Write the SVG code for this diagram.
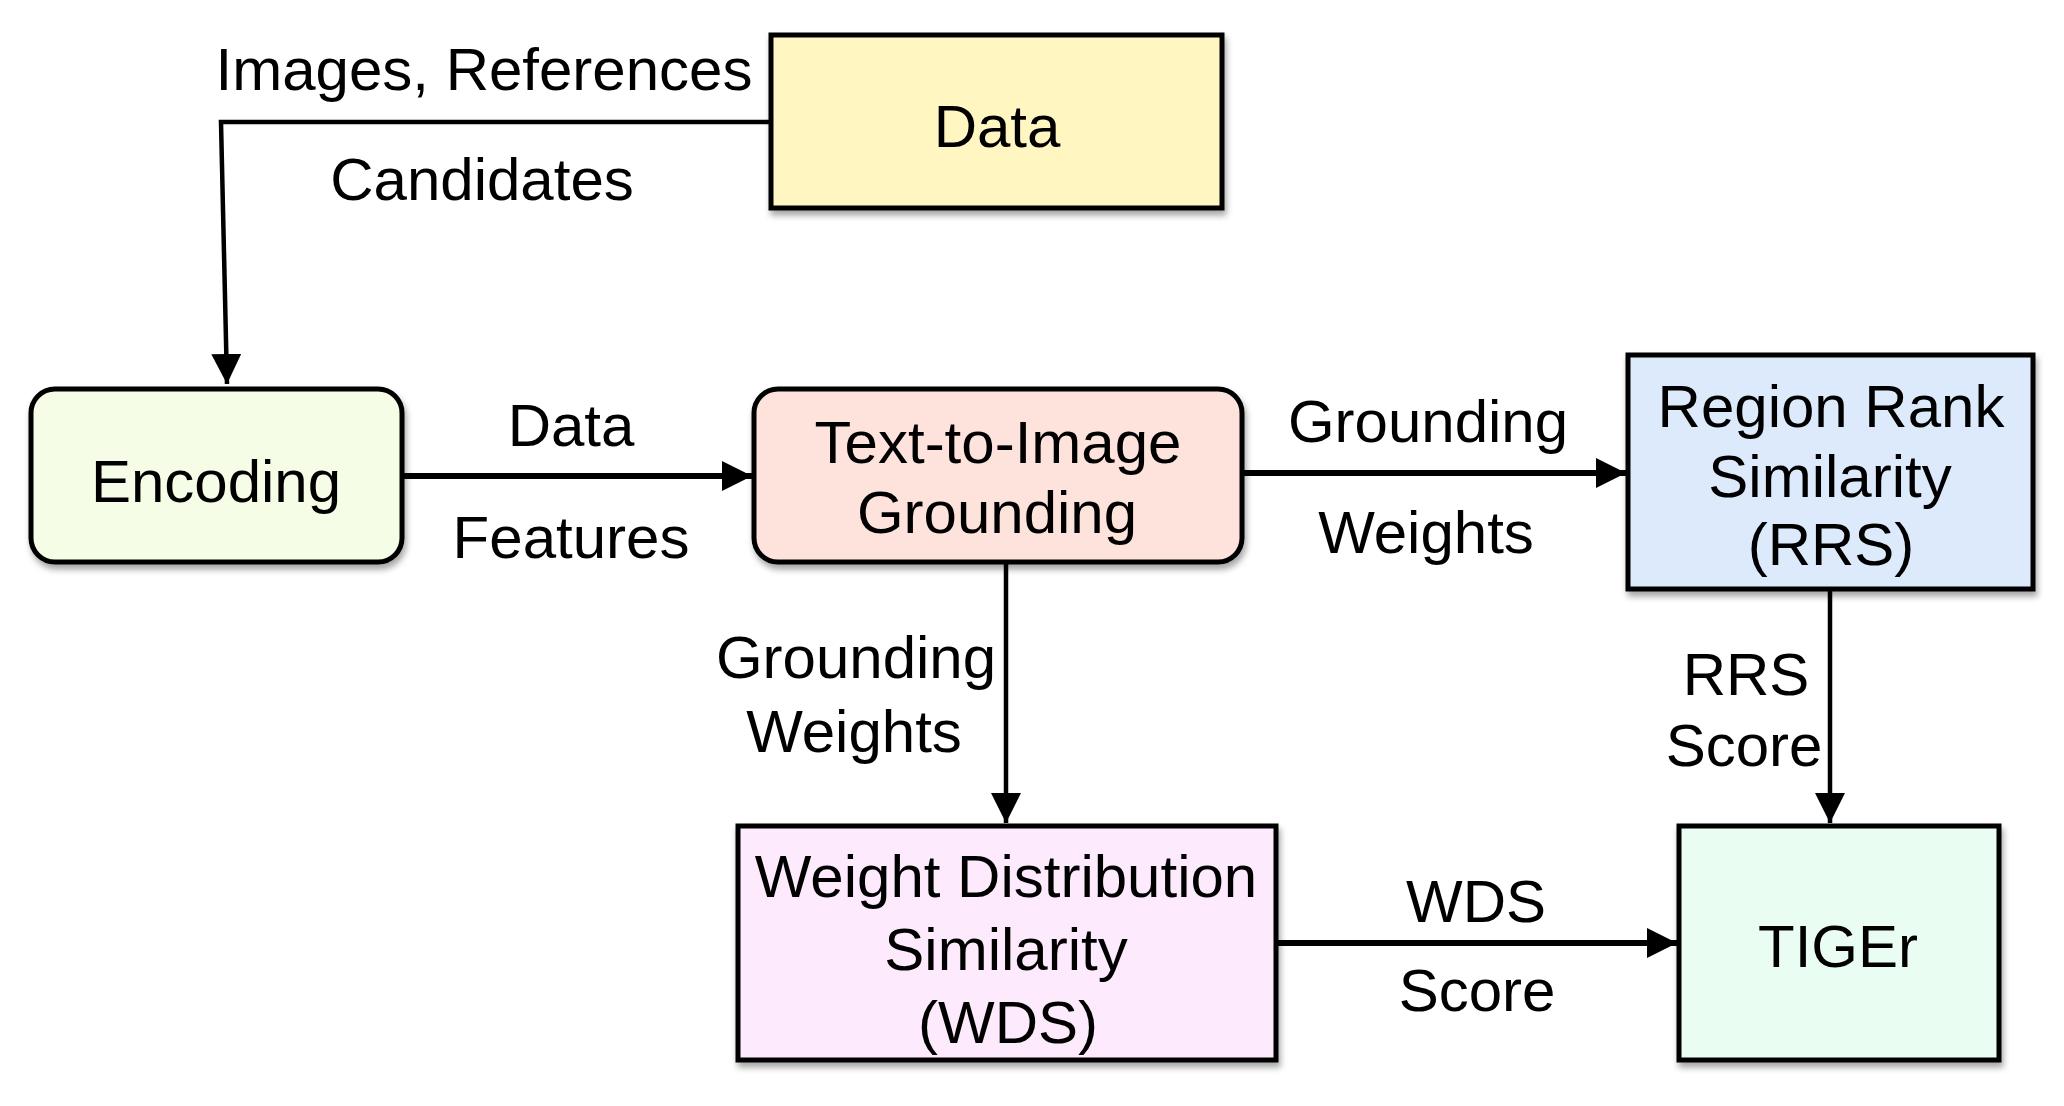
<svg xmlns="http://www.w3.org/2000/svg" width="2064" height="1106" viewBox="0 0 2064 1106">
<defs>
<filter id="sh" x="-10%" y="-10%" width="120%" height="130%">
<feDropShadow dx="2" dy="5" stdDeviation="3" flood-color="#000" flood-opacity="0.35"/>
</filter>
<marker id="ah" viewBox="0 0 30 30" refX="30" refY="15" markerWidth="30" markerHeight="30" markerUnits="userSpaceOnUse" orient="auto">
<path d="M0,0 L30,15 L0,30 Z" fill="#000"/>
</marker>
</defs>
<style>
.box{stroke:#000;stroke-width:5;filter:url(#sh)}
.t{font-family:"Liberation Sans",Arial,sans-serif;font-size:60px;fill:#000;text-anchor:middle}
.c{fill:none;stroke:#000;stroke-width:4.5}
.h{stroke-width:6}
</style>
<rect width="2064" height="1106" fill="#fff"/>
<g id="connectors">
<polyline class="c" points="771,122 221,122 227,384" marker-end="url(#ah)"/>
<line class="c h" x1="403" y1="476" x2="752" y2="476" marker-end="url(#ah)"/>
<line class="c h" x1="1243" y1="473" x2="1626" y2="473" marker-end="url(#ah)"/>
<line class="c" x1="1006" y1="563" x2="1006" y2="823" marker-end="url(#ah)"/>
<line class="c" x1="1830" y1="590" x2="1830" y2="823" marker-end="url(#ah)"/>
<line class="c h" x1="1277" y1="943" x2="1677" y2="943" marker-end="url(#ah)"/>
<text class="t" x="484" y="90">Images, References</text>
<text class="t" x="482" y="200">Candidates</text>
<text class="t" x="571" y="446">Data</text>
<text class="t" x="571" y="558">Features</text>
<text class="t" x="1428" y="442">Grounding</text>
<text class="t" x="1426" y="553">Weights</text>
<text class="t" x="856" y="678">Grounding</text>
<text class="t" x="854" y="752">Weights</text>
<text class="t" x="1746" y="695">RRS</text>
<text class="t" x="1744" y="766">Score</text>
<text class="t" x="1476" y="922">WDS</text>
<text class="t" x="1477" y="1011">Score</text>
</g>
<g id="data">
<rect class="box" x="771" y="35" width="451" height="173" fill="#FFF6C1"/>
<text class="t" x="997" y="147">Data</text>
</g>
<g id="encoding">
<rect class="box" x="31" y="389" width="371" height="173" rx="24" fill="#F6FDE6"/>
<text class="t" x="216" y="502">Encoding</text>
</g>
<g id="grounding">
<rect class="box" x="754" y="389" width="488" height="173" rx="24" fill="#FDE3DC"/>
<text class="t" x="998" y="463">Text-to-Image</text>
<text class="t" x="997" y="533">Grounding</text>
</g>
<g id="rrs">
<rect class="box" x="1628" y="355" width="405" height="234" fill="#DCEAFB"/>
<text class="t" x="1831" y="427">Region Rank</text>
<text class="t" x="1830" y="497">Similarity</text>
<text class="t" x="1831" y="565">(RRS)</text>
</g>
<g id="wds">
<rect class="box" x="738" y="826" width="538" height="234" fill="#FDEAFC"/>
<text class="t" x="1006" y="897">Weight Distribution</text>
<text class="t" x="1006" y="970">Similarity</text>
<text class="t" x="1008" y="1043">(WDS)</text>
</g>
<g id="tiger">
<rect class="box" x="1679" y="826" width="320" height="234" fill="#EAFDF3"/>
<text class="t" x="1838" y="967">TIGEr</text>
</g>
</svg>
